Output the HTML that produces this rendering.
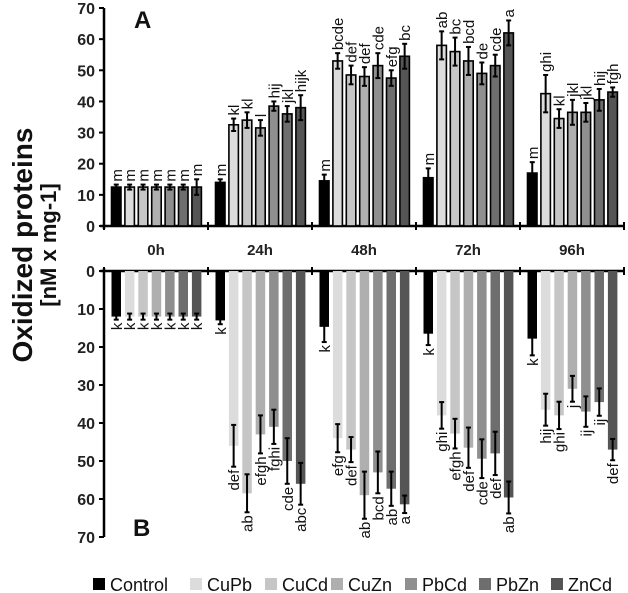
<!DOCTYPE html>
<html><head><meta charset="utf-8">
<style>
html,body{margin:0;padding:0;background:#fff;}
svg{display:block;font-family:"Liberation Sans",sans-serif;}
</style></head>
<body>
<svg id="chart" width="628" height="593" viewBox="0 0 628 593" xmlns="http://www.w3.org/2000/svg">
<text transform="translate(32,245) rotate(-90)" text-anchor="middle" font-size="28" font-weight="bold" fill="#111">Oxidized proteins</text>
<text transform="translate(56,245) rotate(-90)" text-anchor="middle" font-size="22" font-weight="bold" fill="#111">[nM x mg-1]</text>
<text x="134" y="28" font-size="24" font-weight="bold" fill="#111">A</text>
<text x="133" y="536" font-size="24" font-weight="bold" fill="#111">B</text>
<g id="g"></g>
</svg>
<script>
const groups = ["0h","24h","48h","72h","96h"];
const series = ["Control","CuPb","CuCd","CuZn","PbCd","PbZn","ZnCd"];
const colors = ["#000","#dcdcdc","#c6c6c6","#afafaf","#8f8f8f","#6e6e6e","#555"];
const topVals = [
 [12.5,12.5,12.5,12.5,12.5,12.5,12.5],
 [14,32.5,34,31.5,38.5,36,38],
 [14.5,53,48.5,48,51.5,47.5,54.5],
 [15.5,58,56,53,49,51.5,62],
 [17,42.5,34.5,36.5,36.5,40.5,43]];
const topErr = [
 [0.8,0.8,0.8,0.8,0.8,0.8,2.5],
 [1,2,2.5,2.5,1.5,2.5,4],
 [2,2.5,3,3,4,2.5,4],
 [3,4.5,4.5,4.5,3.5,3.5,4],
 [3.5,6,3,4,3,3.5,1.5]];
const topLetters = [
 ["m","m","m","m","m","m","m"],
 ["m","kl","kl","l","hij","jkl","hijk"],
 ["m","bcde","def","def","cde","efg","bc"],
 ["m","ab","bc","bcd","de","cde","a"],
 ["m","ghi","kl","jkl","jkl","hij","fgh"]];
const botVals = [
 [12,12,12,12,12,12,12],
 [13,46,58.5,43,41,50,56],
 [14.7,44,47,59,53,57.3,61.4],
 [16.5,38,42.8,46.5,49.4,48,59.6],
 [17.8,36.5,38,31,37,34.5,47]];
const botErr = [
 [0.8,0.8,0.8,0.8,0.8,0.8,0.8],
 [1,5.5,5,5,4.5,6,5.5],
 [4,3.7,3.3,6.2,5.5,4.5,2.3],
 [3,3.5,3.9,5.3,5.1,5.7,4.2],
 [4.4,4.2,3.6,3.4,4,3.6,2.8]];
const botLetters = [
 ["k","k","k","k","k","k","k"],
 ["k","def","ab","efgh","fghi","cde","abc"],
 ["k","efg","def","ab","bcd","ab","a"],
 ["k","ghi","efgh","def","cde","def","ab"],
 ["k","hij","ghi","j","ij","ij","def"]];
const topTicks = [0,10,20,30,40,50,60,70];
const botTicks = [0,10,20,30,40,50,60,70];

const NS="http://www.w3.org/2000/svg";
const g=document.getElementById('g');
function el(t,a,parent){const e=document.createElementNS(NS,t);for(const k in a)e.setAttribute(k,a[k]);(parent||g).appendChild(e);return e;}
const X0=104, GW=104, PITCH=13.4, BW=9.5, OFF=7.5;
const yTop=v=>226-v*218/70;
const yBot=v=>271+v*266/70;
const xBar=(gi,si)=>X0+gi*GW+OFF+si*PITCH;

let a;
a=el('line',{x1:X0,y1:yTop(70),x2:X0,y2:yTop(0)+3,stroke:'#000','stroke-width':2.5});

a=el('line',{x1:X0-4,y1:yTop(0),x2:X0+GW*5,y2:yTop(0),stroke:'#000','stroke-width':2.5});

a=el('line',{x1:X0,y1:yBot(0)-3,x2:X0,y2:yBot(70),stroke:'#000','stroke-width':2.5});

a=el('line',{x1:X0-4,y1:yBot(0),x2:X0+GW*5,y2:yBot(0),stroke:'#000','stroke-width':2.5});

for(let i=0;i<=5;i++){
  el('line',{x1:X0+i*GW,y1:yTop(0)-4,x2:X0+i*GW,y2:yTop(0)+4,stroke:'#000','stroke-width':2});
  el('line',{x1:X0+i*GW,y1:yBot(0)-4,x2:X0+i*GW,y2:yBot(0)+4,stroke:'#000','stroke-width':2});
}
topTicks.forEach(t=>{
  el('line',{x1:X0-5,y1:yTop(t),x2:X0,y2:yTop(t),stroke:'#000','stroke-width':2});
  const tx=el('text',{x:X0-9,y:yTop(t)+6,'text-anchor':'end','font-size':16,'font-weight':'bold',fill:'#222'});
  tx.textContent=t;
  
  
});
botTicks.forEach(t=>{
  el('line',{x1:X0-5,y1:yBot(t),x2:X0,y2:yBot(t),stroke:'#000','stroke-width':2});
  const tx=el('text',{x:X0-9,y:yBot(t)+6,'text-anchor':'end','font-size':16,'font-weight':'bold',fill:'#222'});
  tx.textContent=t;
  
  
});
groups.forEach((gn,gi)=>{
  const tx=el('text',{x:X0+gi*GW+GW/2,y:255,'text-anchor':'middle','font-size':15,'font-weight':'bold',fill:'#222'});
  tx.textContent=gn;
  
  
});
function errBar(x,y1,y2){
  el('line',{x1:x,y1:y1,x2:x,y2:y2,stroke:'#000','stroke-width':2});
  el('line',{x1:x-2.5,y1:y1,x2:x+2.5,y2:y1,stroke:'#000','stroke-width':2});
  el('line',{x1:x-2.5,y1:y2,x2:x+2.5,y2:y2,stroke:'#000','stroke-width':2});
}
groups.forEach((gn,gi)=>{
  series.forEach((sn,si)=>{
    const x=xBar(gi,si), cx=x+BW/2;
    const v=topVals[gi][si], e=topErr[gi][si];
    const r=el('rect',{x:x,y:yTop(v),width:BW,height:yTop(0)-yTop(v),fill:colors[si],stroke:'#000','stroke-width':1.6});
    
    
    errBar(cx,yTop(v+e),yTop(v-e));
    const lt=el('text',{transform:`translate(${cx+5.5},${yTop(v+e)-3}) rotate(-90)`,'font-size':15,fill:'#111'});
    lt.textContent=topLetters[gi][si];
    
    
    const b=botVals[gi][si], be=botErr[gi][si];
    const rb=el('rect',{x:x,y:yBot(0),width:BW,height:yBot(b)-yBot(0),fill:colors[si]});
    
    
    errBar(cx,yBot(b-be),yBot(b+be));
    const lb=el('text',{transform:`translate(${cx+5.5},${yBot(b+be)+3}) rotate(-90)`,'font-size':15,fill:'#111','text-anchor':'end'});
    lb.textContent=botLetters[gi][si];
    
    
  });
});
const legX=[93,190,265,331,405,479,551];
series.forEach((sn,si)=>{
  const lg=el('g',{});
  
  
  el('rect',{x:legX[si],y:578,width:12,height:12,fill:colors[si]},lg);
  const t=el('text',{x:legX[si]+17,y:591,'font-size':18,fill:'#111'},lg);
  t.textContent=sn;
});
</script>
</body></html>
